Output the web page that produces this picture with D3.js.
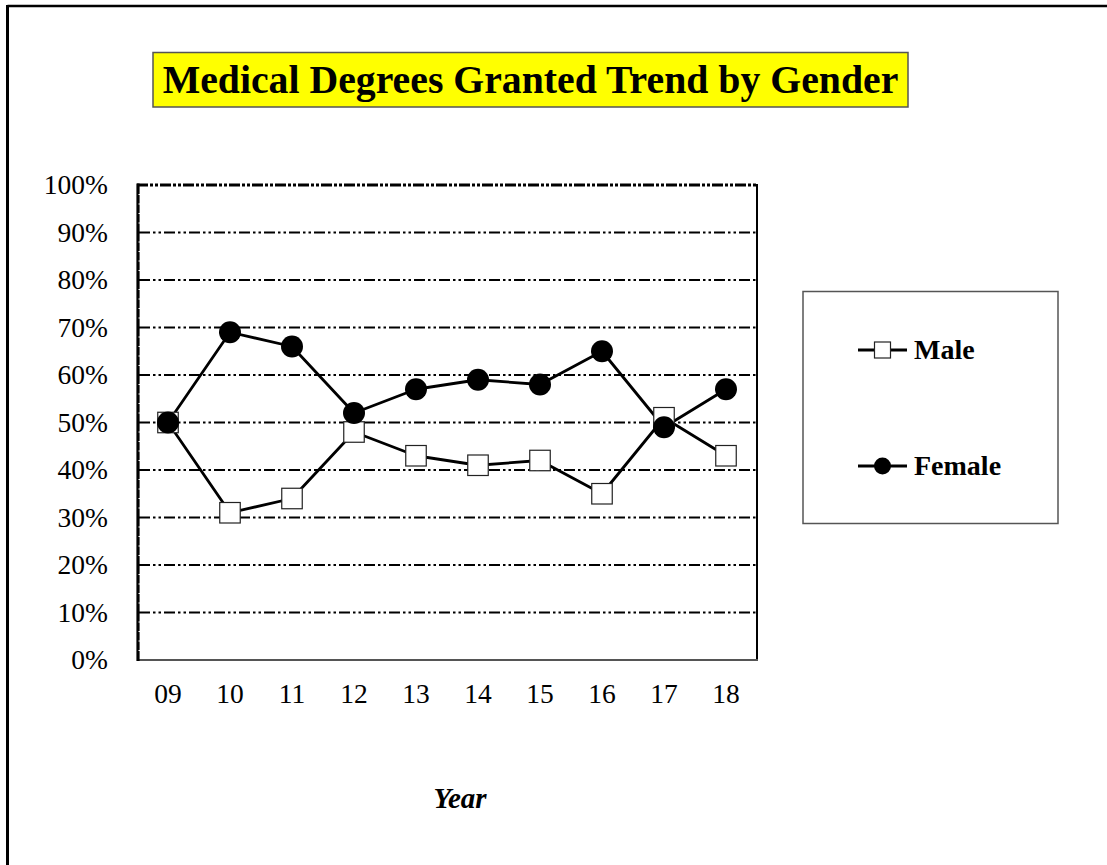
<!DOCTYPE html>
<html>
<head>
<meta charset="utf-8">
<script src="https://cdn.jsdelivr.net/npm/d3@7"></script>
<style>
  html, body { margin: 0; padding: 0; background: #fff; }
  svg { display: block; }
  text { font-family: "Liberation Serif", "Times New Roman", serif; }
</style>
</head>
<body>
<svg id="chart" width="1107" height="865"></svg>
<script>
// ---- data ----
const years = ["09", "10", "11", "12", "13", "14", "15", "16", "17", "18"];
const male = [50, 31, 34, 48, 43, 41, 42, 35, 51, 43];
const female = [50, 69, 66, 52, 57, 59, 58, 65, 49, 57];
const yTicks = [0, 10, 20, 30, 40, 50, 60, 70, 80, 90, 100];
const seriesNames = ["Male", "Female"];
const titleText = "Medical Degrees Granted Trend by Gender";
const xTitle = "Year";

// ---- layout ----
const svg = d3.select("#chart");
const L = 137, R = 757, T = 185, B = 660;

const x = d3.scaleBand().domain(years).range([L, R]).padding(0);
const y = d3.scaleLinear().domain([0, 100]).range([B, T]);
const cx = d => x(d) + x.bandwidth() / 2;

// outer border (top & left visible)
svg.append("line").attr("x1", 7.5).attr("x2", 1200).attr("y1", 6).attr("y2", 6)
  .attr("stroke", "#000").attr("stroke-width", 2.6);
svg.append("line").attr("x1", 7.5).attr("x2", 7.5).attr("y1", 5).attr("y2", 900)
  .attr("stroke", "#000").attr("stroke-width", 3);

// title
const tg = svg.append("g");
tg.append("rect").attr("x", 153).attr("y", 52.5).attr("width", 755).attr("height", 54.5)
  .attr("fill", "#ffff00").attr("stroke", "#555").attr("stroke-width", 1.5);
const tt = tg.append("text").attr("x", 530.5).attr("y", 93).attr("text-anchor", "middle")
  .attr("font-weight", "bold").attr("font-size", 36).text(titleText);
const tw = tt.node().getComputedTextLength();
tt.attr("font-size", 36 * 736 / tw);

// gridlines
const grid = svg.append("g");
grid.selectAll("line.g").data(yTicks.filter(t => t > 0 && t < 100)).enter().append("line")
  .attr("x1", L + 2).attr("x2", R).attr("y1", d => y(d)).attr("y2", d => y(d))
  .attr("stroke", "#000").attr("stroke-width", 2)
  .attr("stroke-dasharray", "11,3,2.5,3,2.5,3");
// top line (100%)
grid.append("line").attr("x1", L).attr("x2", R).attr("y1", y(100)).attr("y2", y(100))
  .attr("stroke", "#000").attr("stroke-width", 3)
  .attr("stroke-dasharray", "11,2,3,2,3,2");

// right border
svg.append("line").attr("x1", R).attr("x2", R).attr("y1", T - 1).attr("y2", B)
  .attr("stroke", "#000").attr("stroke-width", 2);
// bottom axis line
svg.append("line").attr("x1", L).attr("x2", R + 1).attr("y1", B).attr("y2", B)
  .attr("stroke", "#555").attr("stroke-width", 2.2);
// left axis line
svg.append("line").attr("x1", L + 1).attr("x2", L + 1).attr("y1", T - 1.5).attr("y2", B + 1)
  .attr("stroke", "#000").attr("stroke-width", 3.2);
// minor white notches
const minor = d3.range(2, 100, 2).filter(v => v % 10 !== 0);
svg.append("g").selectAll("line").data(minor).enter().append("line")
  .attr("x1", L + 1.5).attr("x2", L + 3).attr("y1", d => y(d)).attr("y2", d => y(d))
  .attr("stroke", "#fff").attr("stroke-width", 1);

// y axis labels
const yAxis = d3.axisLeft(y).tickValues(yTicks).tickSize(0).tickPadding(29)
  .tickFormat(d => d + "%");
svg.append("g").attr("transform", `translate(${L},0)`).call(yAxis)
  .call(g => g.select(".domain").remove())
  .selectAll("text").attr("font-family", "Liberation Serif, Times New Roman, serif")
  .attr("font-size", 27.5).attr("fill", "#000");

// x axis labels
const xAxis = d3.axisBottom(x).tickSize(0).tickPadding(23);
svg.append("g").attr("transform", `translate(0,${B})`).call(xAxis)
  .call(g => g.select(".domain").remove())
  .selectAll("text").attr("font-family", "Liberation Serif, Times New Roman, serif")
  .attr("font-size", 27.5).attr("fill", "#000");

// x title
svg.append("text").attr("x", 460).attr("y", 808).attr("text-anchor", "middle")
  .attr("font-weight", "bold").attr("font-style", "italic").attr("font-size", 29)
  .text(xTitle);

// lines
const line = d3.line().x((d, i) => cx(years[i])).y(d => y(d));
[male, female].forEach(s => {
  svg.append("path").datum(s).attr("d", line).attr("fill", "none")
    .attr("stroke", "#000").attr("stroke-width", 2.8).attr("stroke-linejoin", "round");
});

// markers
const sq = 20.5;
svg.append("g").selectAll("rect").data(male).enter().append("rect")
  .attr("x", (d, i) => cx(years[i]) - sq / 2).attr("y", d => y(d) - sq / 2)
  .attr("width", sq).attr("height", sq)
  .attr("fill", "#fff").attr("stroke", "#222").attr("stroke-width", 1.2);
svg.append("g").selectAll("circle").data(female).enter().append("circle")
  .attr("cx", (d, i) => cx(years[i])).attr("cy", d => y(d)).attr("r", 11)
  .attr("fill", "#000");

// legend
const lg = svg.append("g");
lg.append("rect").attr("x", 803).attr("y", 291.5).attr("width", 255).attr("height", 232)
  .attr("fill", "#fff").attr("stroke", "#555").attr("stroke-width", 1.5);
const legY = [350, 466];
seriesNames.forEach((name, i) => {
  const yy = legY[i];
  lg.append("line").attr("x1", 858).attr("x2", 907).attr("y1", yy).attr("y2", yy)
    .attr("stroke", "#000").attr("stroke-width", 2.8);
  if (i === 0) {
    lg.append("rect").attr("x", 874.5).attr("y", yy - 8).attr("width", 16).attr("height", 16)
      .attr("fill", "#fff").attr("stroke", "#222").attr("stroke-width", 1.2);
  } else {
    lg.append("circle").attr("cx", 882.5).attr("cy", yy).attr("r", 8.5).attr("fill", "#000");
  }
  lg.append("text").attr("x", 914).attr("y", yy).attr("dy", "0.33em")
    .attr("font-weight", "bold").attr("font-size", 28).text(name);
});
</script>
</body>
</html>
